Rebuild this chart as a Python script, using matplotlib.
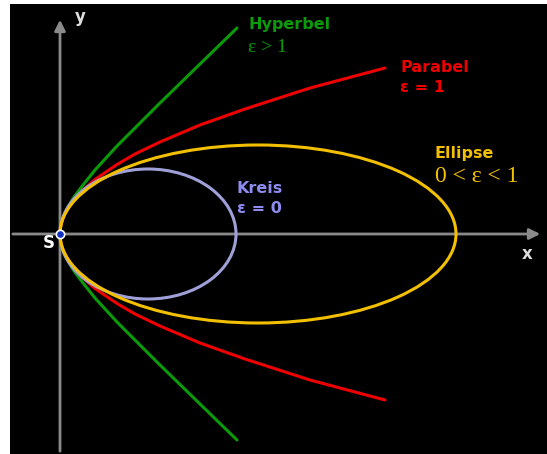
import matplotlib
matplotlib.use("Agg")
import matplotlib.pyplot as plt
from matplotlib.patches import Ellipse

# Kegelschnitte mit gemeinsamem Scheitel S
hyp_x = [0, 0.5, 2, 4, 8, 14, 23, 35, 57, 75, 100, 140, 177]
hyp_y = [0, 6.5, 13, 19, 27, 37, 49, 64, 88, 106, 131, 170, 206]

par_x = [0, 0.5, 2, 4, 8, 14, 23, 35, 57, 75, 100, 140, 185, 250, 325]
par_y = [0, 6.5, 13, 18.5, 26, 34.5, 44, 54.5, 69.5, 80, 92, 109, 125, 146, 166]

# Ellipse: Mittelpunkt, Breite, Hoehe
ell_center = (198, 0)
ell_size = (396, 178)

# Kreis (im Bild horizontal gestreckt)
circ_center = (88, 0)
circ_size = (176, 130)

gray = "#8a8a8a"
green = "#0a9a0a"
red = "#ee0000"
yellow = "#f2c000"
lav = "#a0a0d8"

fig = plt.figure(figsize=(5.47, 4.54), dpi=100)
fig.patch.set_facecolor("white")
ax = fig.add_axes([10 / 547, 0, 537 / 547, 450 / 454])
ax.set_facecolor("black")
ax.set_xlim(-50, 487)
ax.set_ylim(-220, 230)
ax.set_aspect("equal")
ax.axis("off")
ax.add_patch(plt.Rectangle((-50, -220), 537, 450, color="black", zorder=0))

# Achsen mit Pfeilen
ax.annotate("", xy=(483, 0), xytext=(-50, 0),
            arrowprops=dict(arrowstyle="-|>", color=gray, lw=2, mutation_scale=16), zorder=1)
ax.annotate("", xy=(0, 217), xytext=(0, -220),
            arrowprops=dict(arrowstyle="-|>", color=gray, lw=2, mutation_scale=16), zorder=1)

lw = 2.2
ax.plot(hyp_x, hyp_y, color=green, lw=lw, solid_capstyle="round", zorder=2)
ax.plot(hyp_x, [-v for v in hyp_y], color=green, lw=lw, solid_capstyle="round", zorder=2)
ax.plot(par_x, par_y, color=red, lw=lw, solid_capstyle="round", zorder=3)
ax.plot(par_x, [-v for v in par_y], color=red, lw=lw, solid_capstyle="round", zorder=3)
ax.add_patch(Ellipse(circ_center, *circ_size, fill=False, edgecolor=lav, lw=lw, zorder=4))
ax.add_patch(Ellipse(ell_center, *ell_size, fill=False, edgecolor=yellow, lw=lw, zorder=5))

# Scheitel S
ax.plot([0], [0], "o", ms=6, mfc="#1030c0", mec="white", mew=1.2, zorder=6)

sans = dict(family="DejaVu Sans", fontweight="bold", fontsize=11.5)
serif = dict(family="Liberation Serif", fontsize=14)

ax.text(15, 212, "y", color="#dddddd", family="DejaVu Sans", fontweight="bold", fontsize=12)
ax.text(462, -25, "x", color="#dddddd", family="DejaVu Sans", fontweight="bold", fontsize=12)
ax.text(-17, -14, "S", color="white", family="DejaVu Sans", fontweight="bold", fontsize=12)

ax.text(188, 205, "Hyperbel", color=green, **sans)
ax.text(188, 182, "ε > 1", color=green, **serif)
ax.text(340, 162, "Parabel", color=red, **sans)
ax.text(340, 142, "ε = 1", color=red, **sans)
ax.text(177, 41, "Kreis", color="#8c8cf0", **sans)
ax.text(177, 21, "ε = 0", color="#8c8cf0", **sans)
ax.text(375, 76, "Ellipse", color=yellow, **sans)
ax.text(375, 52, "0 < ε < 1", color=yellow, family="Liberation Serif", fontsize=17)

fig.savefig("out.png", dpi=100, facecolor=fig.get_facecolor())
